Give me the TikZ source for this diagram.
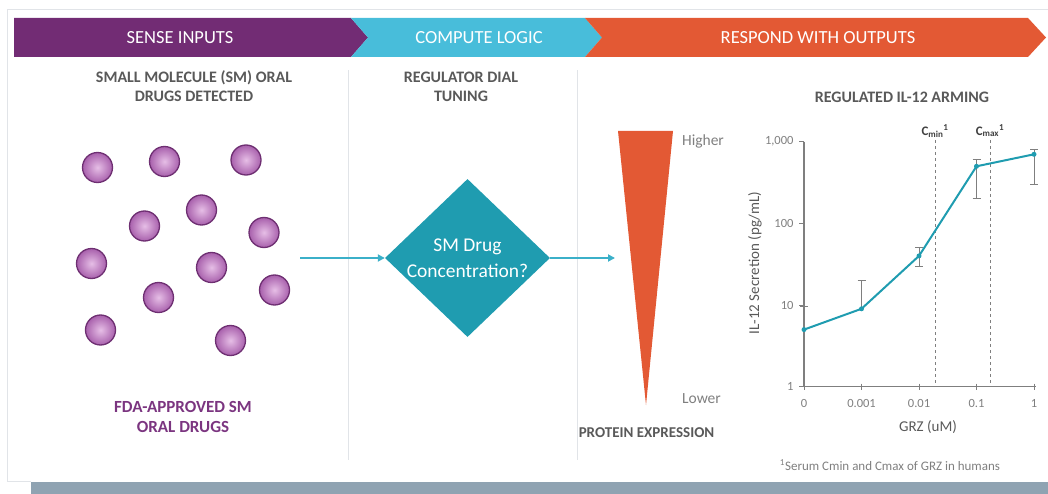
\documentclass[tikz,border=0pt]{standalone}
\usepackage{fontspec}
\setmainfont{Carlito}
\usetikzlibrary{shapes.geometric,arrows.meta}
\definecolor{sensepurple}{HTML}{722C74}
\definecolor{logiccyan}{HTML}{48BDDA}
\definecolor{outorange}{HTML}{E35934}
\definecolor{dialteal}{HTML}{1F9CB0}
\definecolor{flowcyan}{HTML}{3BB0C9}
\definecolor{labelgray}{HTML}{595959}
\definecolor{axisgray}{HTML}{7F7F7F}
\definecolor{framegray}{HTML}{E1E4E8}
\definecolor{barslate}{HTML}{8FA3B2}
\definecolor{molin}{HTML}{E6BEE6}
\definecolor{molout}{HTML}{A860AC}
\definecolor{molrim}{HTML}{6E2F72}
\definecolor{fdapurple}{HTML}{7B3580}
\begin{document}
\begin{tikzpicture}[x=1pt, y=-1pt,
  mol/.style={circle, minimum size=30pt, inner sep=0pt, draw=molrim, line width=1.3pt, inner color=molin, outer color=molout},
  head/.style={text=white, font=\fontsize{18.5}{18.5}\selectfont},
  sub/.style={text=labelgray, font=\bfseries\fontsize{16}{19}\selectfont, align=center},
  tick/.style={text=axisgray, font=\fontsize{12.5}{13}\selectfont},
  pt/.style={circle, fill=dialteal, inner sep=0pt, minimum size=5pt},
  flow/.style={draw=flowcyan, line width=1.8pt, -{Triangle[length=7pt,width=7pt]}},
  errbar/.style={draw=axisgray, line width=1pt}]
\useasboundingbox (0,0) rectangle (1048,494);
\draw[framegray, line width=1pt] (1048,10) -- (7,10) -- (7,481) -- (31,481);
\fill[barslate] (31,482) rectangle (1048,494);
\fill[sensepurple] (14,18) -- (351,18) -- (368,37.5) -- (351,57) -- (14,57) -- cycle;
\fill[logiccyan] (351,18) -- (585,18) -- (602,37.5) -- (585,57) -- (351,57) -- (368,37.5) -- cycle;
\fill[outorange] (585,18) -- (1028,18) -- (1046,37.5) -- (1028,57) -- (585,57) -- (602,37.5) -- cycle;
\node[head] (sense) at (180,38) {SENSE INPUTS};
\node[head] (compute) at (479,38) {COMPUTE LOGIC};
\node[head] (respond) at (818,38) {RESPOND WITH OUTPUTS};
\draw[framegray, line width=1pt] (348,70) -- (348,460);
\draw[framegray, line width=1pt] (577,70) -- (577,460);
\node[sub] (detected) at (194,86.5) {SMALL MOLECULE (SM) ORAL\\DRUGS DETECTED};
\node[sub] (tuning) at (461,86.5) {REGULATOR DIAL\\TUNING};
\node[sub] (arming) at (902,97) {REGULATED IL-12 ARMING};
\node[mol] (mol0) at (97.5,167.5){};
\node[mol] (mol1) at (164.5,161.5){};
\node[mol] (mol2) at (246,160){};
\node[mol] (mol3) at (144.5,226){};
\node[mol] (mol4) at (201.5,210){};
\node[mol] (mol5) at (264,232.5){};
\node[mol] (mol6) at (91.5,263.5){};
\node[mol] (mol7) at (211.5,267.5){};
\node[mol] (mol8) at (274.5,290){};
\node[mol] (mol9) at (158.5,297.5){};
\node[mol] (mol10) at (100.5,330){};
\node[mol] (mol11) at (230.5,340.5){};
\node[text=fdapurple, font=\bfseries\fontsize{17}{20}\selectfont, align=center] (fda) at (183,417) {FDA-APPROVED SM\\ORAL DRUGS};
\node[diamond, aspect=1.04, fill=dialteal, text=white, inner sep=0pt, minimum width=165pt, minimum height=158pt, align=center, font=\fontsize{19.5}{26}\selectfont] (dial) at (467.5,258) {SM Drug\\Concentration?};
\coordinate (drugs) at (300,258);
\coordinate (cone) at (615,258);
\draw[flow] (drugs) -- (dial.west);
\draw[flow] (dial.east) -- (cone);
\fill[outorange] (618,131) -- (673,131) -- (646,405) -- cycle;
\node[text=axisgray, font=\fontsize{15.5}{16}\selectfont] (higher) at (703,141) {Higher};
\node[text=axisgray, font=\fontsize{15.5}{16}\selectfont] (lower) at (701.5,399) {Lower};
\node[text=labelgray, font=\bfseries\fontsize{15}{15}\selectfont] (protein) at (646.5,433) {PROTEIN EXPRESSION};
\coordinate (origin) at (804,386.7);
\coordinate (ytop) at (804,141.7);
\coordinate (xend) at (1036,386.7);
\draw[axisgray, line width=1.2pt] (ytop) -- (origin) -- (xend);
\foreach \yy/\lab in {386.7/1, 305/10, 223.3/100, 141.7/{1,000}} {
  \draw[axisgray, line width=1pt] (799,\yy) -- (804,\yy);
  \node[tick, anchor=east] at (797,\yy) {\lab};
}
\foreach \xx/\lab in {804/0, 861.5/0.001, 919/0.01, 976.5/0.1, 1034/1} {
  \draw[axisgray, line width=1pt] (\xx,383.7) -- (\xx,389.7);
  \node[tick] at (\xx,403) {\lab};
}
\node[text=labelgray, font=\fontsize{15}{15}\selectfont] (grz) at (928,427) {GRZ (uM)};
\node[text=labelgray, rotate=90, font=\fontsize{15}{15}\selectfont] (secretion) at (755,263) {IL-12 Secretion (pg/mL)};
\node[text=black!75, font=\bfseries\fontsize{13}{13}\selectfont] (cmin) at (935,131) {C\textsubscript{min}\textsuperscript{1}};
\node[text=black!75, font=\bfseries\fontsize{13}{13}\selectfont] (cmax) at (990,131) {C\textsubscript{max}\textsuperscript{1}};
\draw[axisgray, dashed, line width=1pt] (935,140) -- (935,386.7);
\draw[axisgray, dashed, line width=1pt] (990,140) -- (990,386.7);
\draw[errbar] (804,329.6) -- (804,306.9) (800,306.9) -- (808,306.9);
\draw[errbar] (861.5,308.8) -- (861.5,280.4) (857.5,280.4) -- (865.5,280.4);
\draw[errbar] (919,266.1) -- (919,247.9) (915,266.1) -- (923,266.1) (915,247.9) -- (923,247.9);
\draw[errbar] (976.5,198.8) -- (976.5,159.8) (972.5,198.8) -- (980.5,198.8) (972.5,159.8) -- (980.5,159.8);
\draw[errbar] (1034,184.4) -- (1034,149.6) (1030,184.4) -- (1038,184.4) (1030,149.6) -- (1038,149.6);
\node[pt] (pt0) at (804,329.6){};
\node[pt] (pt1) at (861.5,308.8){};
\node[pt] (pt2) at (919,255.9){};
\node[pt] (pt3) at (976.5,166.3){};
\node[pt] (pt4) at (1034,154.3){};
\draw[dialteal, line width=2pt] (pt0.center) -- (pt1.center) -- (pt2.center) -- (pt3.center) -- (pt4.center);
\node[text=axisgray, font=\fontsize{13}{13}\selectfont] (footnote) at (890,465) {\textsuperscript{1}Serum Cmin and Cmax of GRZ in humans};
\end{tikzpicture}
\end{document}
